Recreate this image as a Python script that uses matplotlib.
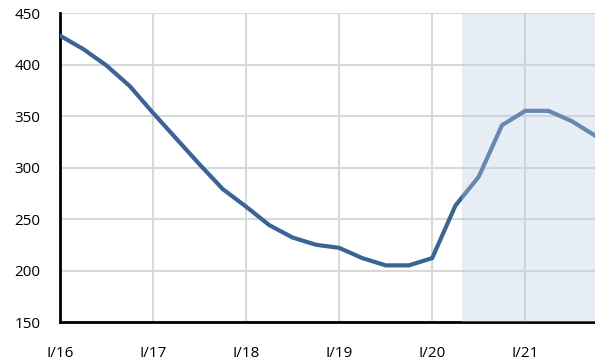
import matplotlib.pyplot as plt

plt.rcParams['font.family'] = ['Open Sans', 'DejaVu Sans']

quarters = ['I/16', 'II/16', 'III/16', 'IV/16',
            'I/17', 'II/17', 'III/17', 'IV/17',
            'I/18', 'II/18', 'III/18', 'IV/18',
            'I/19', 'II/19', 'III/19', 'IV/19',
            'I/20', 'II/20', 'III/20', 'IV/20',
            'I/21', 'II/21', 'III/21', 'IV/21']
values = [428, 415, 399, 379,
          353, 328, 303, 279,
          262, 244, 232, 225,
          222, 212, 205, 205,
          212, 263, 291, 341,
          355, 355, 345, 331]
forecast_start = 17.3

x = list(range(len(values)))

fig = plt.figure(figsize=(5.95, 3.6), dpi=100)
ax = fig.add_axes([60 / 595, 38 / 360, 535 / 595, 309 / 360])

ax.plot(x, values, color='#3B6496', lw=3, solid_joinstyle='miter', zorder=3)
ax.axvspan(forecast_start, len(values) - 1, color='#B8CCE4', alpha=0.35, lw=0, zorder=5)

ax.set_xlim(0, len(values) - 1)
ax.set_ylim(150, 450)
ax.set_yticks(range(150, 451, 50))
tick_pos = [i for i, q in enumerate(quarters) if q.startswith('I/')]
ax.set_xticks(tick_pos)
ax.set_xticklabels([quarters[i] for i in tick_pos])
ax.tick_params(length=0, labelsize=11, colors='black')
ax.tick_params(axis='x', pad=17)
ax.tick_params(axis='y', pad=14)

ax.grid(True, color='#D9D9D9', lw=1.5, zorder=0)
ax.set_axisbelow(True)
for s in ['top', 'right']:
    ax.spines[s].set_visible(False)
for s in ['left', 'bottom']:
    ax.spines[s].set_linewidth(2)
    ax.spines[s].set_color('black')

fig.savefig('out.png', dpi=100)
